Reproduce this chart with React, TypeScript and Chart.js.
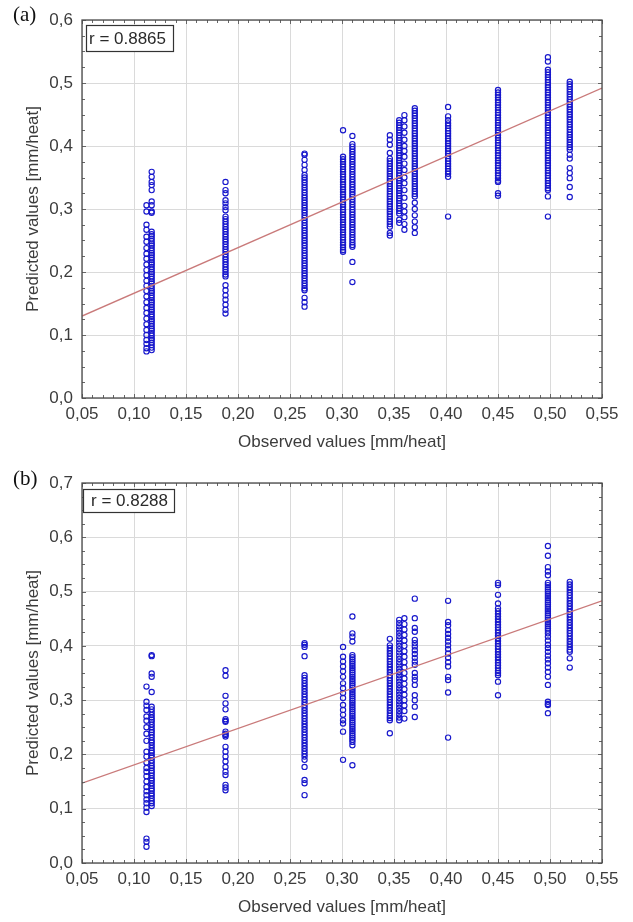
import React, { useEffect, useRef } from "react";
import { Chart, registerables } from "chart.js";
Chart.register(...registerables);

// Observed values (x) of the vertical columns of points
const observedX = [0.112, 0.117, 0.188, 0.264, 0.301, 0.31, 0.346, 0.355, 0.36, 0.37, 0.402, 0.45, 0.498, 0.519];

// x ticks / y ticks
const xMin = 0.05, xMax = 0.55, xStep = 0.05;
const yMaxA = 0.6, yMaxB = 0.7, yStep = 0.1;

// Regression lines (value at x = 0.05 and x = 0.55)
const fitX = [0.05, 0.55];
const fitA = [0.13, 0.492];
const fitB = [0.147, 0.483];

const rTextA = "r = 0.8865";
const rTextB = "r = 0.8288";

// ---- Panel (a) predicted values per column ----
const predA_112 = [0.306, 0.296, 0.275, 0.267, 0.256, 0.248, 0.238, 0.229, 0.221, 0.212, 0.203, 0.195, 0.186, 0.178, 0.17, 0.161, 0.152, 0.143, 0.135, 0.126, 0.117, 0.108, 0.1, 0.092, 0.086, 0.079, 0.074];
const predA_117 = [0.359, 0.351, 0.343, 0.338, 0.33, 0.312, 0.306, 0.296, 0.294, 0.264, 0.26, 0.257, 0.253, 0.249, 0.245, 0.242, 0.238, 0.234, 0.23, 0.227, 0.223, 0.219, 0.215, 0.212, 0.208, 0.204, 0.2, 0.197, 0.193, 0.189, 0.185, 0.182, 0.178, 0.174, 0.17, 0.167, 0.163, 0.159, 0.155, 0.152, 0.148, 0.144, 0.14, 0.137, 0.133, 0.129, 0.125, 0.122, 0.118, 0.114, 0.11, 0.107, 0.103, 0.099, 0.095, 0.092, 0.088, 0.084, 0.08, 0.076];
const predA_188 = [0.343, 0.33, 0.325, 0.314, 0.309, 0.303, 0.298, 0.288, 0.284, 0.28, 0.276, 0.272, 0.268, 0.264, 0.26, 0.256, 0.252, 0.248, 0.244, 0.24, 0.236, 0.232, 0.228, 0.224, 0.22, 0.216, 0.212, 0.208, 0.204, 0.2, 0.196, 0.193, 0.179, 0.171, 0.163, 0.156, 0.148, 0.14, 0.134];
const predA_264 = [0.388, 0.386, 0.378, 0.37, 0.362, 0.354, 0.35, 0.346, 0.342, 0.338, 0.334, 0.33, 0.326, 0.322, 0.318, 0.314, 0.31, 0.306, 0.302, 0.298, 0.294, 0.29, 0.286, 0.282, 0.278, 0.274, 0.27, 0.266, 0.262, 0.258, 0.254, 0.25, 0.246, 0.242, 0.238, 0.234, 0.23, 0.226, 0.222, 0.218, 0.214, 0.21, 0.206, 0.202, 0.198, 0.194, 0.19, 0.186, 0.182, 0.178, 0.174, 0.171, 0.159, 0.152, 0.145];
const predA_301 = [0.425, 0.383, 0.379, 0.375, 0.371, 0.367, 0.363, 0.359, 0.355, 0.351, 0.347, 0.343, 0.339, 0.335, 0.331, 0.327, 0.323, 0.319, 0.315, 0.311, 0.307, 0.303, 0.299, 0.295, 0.291, 0.287, 0.283, 0.279, 0.275, 0.271, 0.267, 0.263, 0.259, 0.255, 0.251, 0.247, 0.243, 0.239, 0.235, 0.232];
const predA_310 = [0.416, 0.403, 0.399, 0.395, 0.391, 0.387, 0.383, 0.379, 0.375, 0.371, 0.367, 0.363, 0.359, 0.355, 0.351, 0.347, 0.343, 0.339, 0.335, 0.331, 0.327, 0.323, 0.319, 0.315, 0.311, 0.307, 0.303, 0.299, 0.295, 0.291, 0.287, 0.283, 0.279, 0.275, 0.271, 0.267, 0.263, 0.259, 0.255, 0.251, 0.247, 0.243, 0.24, 0.216, 0.184];
const predA_346 = [0.417, 0.41, 0.402, 0.389, 0.38, 0.376, 0.372, 0.368, 0.364, 0.36, 0.356, 0.352, 0.348, 0.344, 0.34, 0.336, 0.332, 0.328, 0.324, 0.32, 0.316, 0.312, 0.308, 0.304, 0.3, 0.296, 0.292, 0.288, 0.284, 0.28, 0.276, 0.272, 0.262, 0.258];
const predA_355 = [0.441, 0.437, 0.433, 0.429, 0.425, 0.421, 0.417, 0.413, 0.409, 0.405, 0.401, 0.397, 0.393, 0.389, 0.385, 0.381, 0.377, 0.373, 0.369, 0.365, 0.361, 0.357, 0.353, 0.349, 0.345, 0.341, 0.337, 0.333, 0.329, 0.325, 0.321, 0.317, 0.313, 0.309, 0.305, 0.301, 0.297, 0.293, 0.283, 0.278];
const predA_360 = [0.449, 0.441, 0.431, 0.421, 0.41, 0.4, 0.392, 0.383, 0.372, 0.362, 0.35, 0.341, 0.33, 0.318, 0.305, 0.296, 0.287, 0.276, 0.267];
const predA_370 = [0.46, 0.456, 0.452, 0.448, 0.444, 0.44, 0.436, 0.432, 0.428, 0.424, 0.42, 0.416, 0.412, 0.408, 0.404, 0.4, 0.396, 0.392, 0.388, 0.384, 0.38, 0.376, 0.372, 0.368, 0.364, 0.36, 0.356, 0.352, 0.348, 0.344, 0.34, 0.336, 0.332, 0.328, 0.324, 0.32, 0.31, 0.3, 0.29, 0.28, 0.271, 0.262];
const predA_402 = [0.462, 0.447, 0.441, 0.436, 0.432, 0.428, 0.424, 0.42, 0.416, 0.412, 0.408, 0.404, 0.4, 0.396, 0.392, 0.388, 0.384, 0.38, 0.376, 0.372, 0.368, 0.364, 0.36, 0.356, 0.351, 0.288];
const predA_450 = [0.489, 0.485, 0.481, 0.477, 0.473, 0.469, 0.465, 0.461, 0.457, 0.453, 0.449, 0.445, 0.441, 0.437, 0.433, 0.429, 0.425, 0.421, 0.417, 0.413, 0.409, 0.405, 0.401, 0.397, 0.393, 0.389, 0.385, 0.381, 0.377, 0.373, 0.369, 0.365, 0.361, 0.357, 0.353, 0.349, 0.345, 0.343, 0.325, 0.321];
const predA_498 = [0.541, 0.534, 0.521, 0.517, 0.513, 0.509, 0.505, 0.501, 0.497, 0.493, 0.489, 0.485, 0.481, 0.477, 0.473, 0.469, 0.465, 0.461, 0.457, 0.453, 0.449, 0.445, 0.441, 0.437, 0.433, 0.429, 0.425, 0.421, 0.417, 0.413, 0.409, 0.405, 0.401, 0.397, 0.393, 0.389, 0.385, 0.381, 0.377, 0.373, 0.369, 0.365, 0.361, 0.357, 0.353, 0.349, 0.345, 0.341, 0.337, 0.333, 0.33, 0.32, 0.288];
const predA_519 = [0.502, 0.498, 0.494, 0.49, 0.486, 0.482, 0.478, 0.474, 0.47, 0.466, 0.462, 0.458, 0.454, 0.45, 0.446, 0.442, 0.438, 0.434, 0.43, 0.426, 0.422, 0.418, 0.414, 0.41, 0.406, 0.402, 0.398, 0.394, 0.386, 0.38, 0.365, 0.357, 0.349, 0.335, 0.319];

// ---- Panel (b) predicted values per column ----
const predB_112 = [0.325, 0.297, 0.29, 0.282, 0.27, 0.262, 0.25, 0.238, 0.225, 0.205, 0.196, 0.185, 0.175, 0.168, 0.16, 0.15, 0.14, 0.132, 0.125, 0.117, 0.11, 0.102, 0.094, 0.045, 0.039, 0.03];
const predB_117 = [0.383, 0.381, 0.349, 0.343, 0.315, 0.288, 0.283, 0.278, 0.273, 0.268, 0.264, 0.26, 0.255, 0.25, 0.245, 0.241, 0.236, 0.231, 0.226, 0.222, 0.217, 0.212, 0.207, 0.203, 0.198, 0.194, 0.189, 0.184, 0.179, 0.175, 0.17, 0.166, 0.161, 0.156, 0.152, 0.147, 0.142, 0.137, 0.133, 0.128, 0.124, 0.119, 0.114, 0.11, 0.105];
const predB_188 = [0.355, 0.345, 0.308, 0.294, 0.283, 0.265, 0.262, 0.26, 0.242, 0.238, 0.236, 0.233, 0.214, 0.205, 0.196, 0.187, 0.177, 0.168, 0.162, 0.144, 0.139, 0.134];
const predB_264 = [0.405, 0.402, 0.398, 0.381, 0.346, 0.341, 0.336, 0.331, 0.326, 0.321, 0.316, 0.311, 0.306, 0.301, 0.296, 0.291, 0.286, 0.281, 0.276, 0.271, 0.266, 0.261, 0.256, 0.251, 0.246, 0.241, 0.236, 0.231, 0.226, 0.221, 0.216, 0.211, 0.206, 0.201, 0.196, 0.19, 0.177, 0.153, 0.147, 0.125];
const predB_301 = [0.398, 0.38, 0.371, 0.362, 0.353, 0.343, 0.331, 0.322, 0.313, 0.304, 0.291, 0.282, 0.273, 0.263, 0.257, 0.242, 0.19];
const predB_310 = [0.454, 0.423, 0.417, 0.408, 0.383, 0.379, 0.375, 0.371, 0.367, 0.363, 0.359, 0.355, 0.351, 0.347, 0.343, 0.339, 0.335, 0.331, 0.327, 0.323, 0.319, 0.315, 0.311, 0.307, 0.303, 0.299, 0.295, 0.291, 0.287, 0.283, 0.279, 0.275, 0.271, 0.267, 0.263, 0.259, 0.255, 0.251, 0.247, 0.243, 0.239, 0.235, 0.231, 0.227, 0.223, 0.217, 0.18];
const predB_346 = [0.413, 0.401, 0.396, 0.391, 0.386, 0.381, 0.376, 0.371, 0.366, 0.361, 0.356, 0.351, 0.346, 0.341, 0.336, 0.331, 0.326, 0.321, 0.316, 0.311, 0.306, 0.301, 0.296, 0.291, 0.286, 0.281, 0.276, 0.271, 0.267, 0.263, 0.239];
const predB_355 = [0.448, 0.442, 0.436, 0.43, 0.424, 0.418, 0.412, 0.406, 0.4, 0.394, 0.388, 0.382, 0.376, 0.37, 0.364, 0.358, 0.352, 0.346, 0.34, 0.334, 0.328, 0.322, 0.316, 0.31, 0.304, 0.298, 0.292, 0.286, 0.28, 0.274, 0.268, 0.263];
const predB_360 = [0.451, 0.44, 0.43, 0.42, 0.41, 0.4, 0.39, 0.38, 0.37, 0.36, 0.35, 0.34, 0.33, 0.32, 0.31, 0.3, 0.29, 0.28, 0.266];
const predB_370 = [0.487, 0.451, 0.433, 0.426, 0.411, 0.405, 0.399, 0.392, 0.385, 0.378, 0.371, 0.365, 0.35, 0.343, 0.337, 0.328, 0.309, 0.3, 0.288, 0.269];
const predB_402 = [0.483, 0.444, 0.438, 0.429, 0.422, 0.415, 0.408, 0.401, 0.394, 0.386, 0.378, 0.37, 0.362, 0.343, 0.337, 0.314, 0.231];
const predB_450 = [0.516, 0.512, 0.494, 0.478, 0.469, 0.464, 0.459, 0.454, 0.449, 0.444, 0.439, 0.434, 0.429, 0.424, 0.419, 0.414, 0.409, 0.404, 0.399, 0.394, 0.389, 0.384, 0.379, 0.374, 0.369, 0.364, 0.359, 0.354, 0.35, 0.346, 0.334, 0.309];
const predB_498 = [0.584, 0.566, 0.545, 0.537, 0.53, 0.516, 0.512, 0.508, 0.504, 0.5, 0.496, 0.492, 0.488, 0.484, 0.48, 0.476, 0.472, 0.468, 0.464, 0.46, 0.456, 0.452, 0.448, 0.444, 0.44, 0.436, 0.432, 0.428, 0.423, 0.417, 0.41, 0.402, 0.396, 0.389, 0.382, 0.375, 0.368, 0.36, 0.352, 0.343, 0.328, 0.297, 0.293, 0.291, 0.276];
const predB_519 = [0.518, 0.513, 0.508, 0.503, 0.498, 0.493, 0.488, 0.483, 0.478, 0.473, 0.468, 0.463, 0.458, 0.453, 0.448, 0.443, 0.438, 0.433, 0.428, 0.423, 0.418, 0.413, 0.408, 0.403, 0.398, 0.393, 0.389, 0.377, 0.36];

const columnsA = [predA_112, predA_117, predA_188, predA_264, predA_301, predA_310, predA_346, predA_355, predA_360, predA_370, predA_402, predA_450, predA_498, predA_519];
const columnsB = [predB_112, predB_117, predB_188, predB_264, predB_301, predB_310, predB_346, predB_355, predB_360, predB_370, predB_402, predB_450, predB_498, predB_519];

const xTitle = "Observed values [mm/heat]";
const yTitle = "Predicted values [mm/heat]";

const FONT = '"Liberation Sans", Arial, sans-serif';
const TEXT_COLOR = "#3c3c3c";

type PanelProps = {
  top: number;
  height: number;
  padTop: number;
  xAxisH: number;
  xTitlePad: number;
  yMax: number;
  columns: number[][];
  fit: number[];
  rText: string;
  rBox: number[];
  rTextPad: number;
  label: string;
  labelBaseline: number;
};

function Panel(p: PanelProps) {
  const ref = useRef<HTMLCanvasElement>(null);
  useEffect(() => {
    const canvas = ref.current;
    if (!canvas) return;
    const points: { x: number; y: number }[] = [];
    p.columns.forEach((ys, i) => ys.forEach((y) => points.push({ x: observedX[i], y })));
    const line = fitX.map((x, i) => ({ x, y: p.fit[i] }));

    const decor = {
      id: "decor",
      afterDraw(chart: any) {
        const { ctx, chartArea: a, scales } = chart;
        const xs = scales.x;
        const ys = scales.y;
        ctx.save();
        // minor ticks inside the frame
        ctx.strokeStyle = "#666";
        ctx.lineWidth = 1;
        ctx.beginPath();
        for (let i = 0; i <= 50; i++) {
          const px = Math.round(xs.getPixelForValue(xMin + i * 0.01)) + 0.5;
          const len = i % 5 === 0 ? 4 : 3;
          ctx.moveTo(px, a.bottom);
          ctx.lineTo(px, a.bottom - len);
          ctx.moveTo(px, a.top);
          ctx.lineTo(px, a.top + len);
        }
        const nY = Math.round(p.yMax / 0.025);
        for (let i = 0; i <= nY; i++) {
          const py = Math.round(ys.getPixelForValue(i * 0.025)) + 0.5;
          const len = i % 4 === 0 ? 4 : 3;
          ctx.moveTo(a.left, py);
          ctx.lineTo(a.left + len, py);
          ctx.moveTo(a.right, py);
          ctx.lineTo(a.right - len, py);
        }
        ctx.stroke();
        // frame
        ctx.strokeStyle = "#4a4a4a";
        ctx.lineWidth = 1.3;
        ctx.strokeRect(a.left, a.top, a.right - a.left, a.bottom - a.top);
        // r box
        const [dx, dy, w, h] = p.rBox;
        const bx = a.left + dx;
        const by = a.top + dy;
        ctx.fillStyle = "#fff";
        ctx.fillRect(bx, by, w, h);
        ctx.strokeStyle = "#333";
        ctx.lineWidth = 1.2;
        ctx.strokeRect(bx + 0.5, by + 0.5, w, h);
        ctx.fillStyle = "#2a2a2a";
        ctx.font = `17px ${FONT}`;
        ctx.textAlign = "left";
        ctx.textBaseline = "middle";
        ctx.fillText(p.rText, bx + p.rTextPad, by + h / 2 + 1);
        // panel label
        ctx.font = '21px "Liberation Serif", "Times New Roman", serif';
        ctx.fillStyle = "#111";
        ctx.textBaseline = "alphabetic";
        ctx.fillText(p.label, 13, p.labelBaseline);
        ctx.restore();
      },
    };

    const chart = new Chart(canvas, {
      type: "scatter",
      data: {
        datasets: [
          {
            label: "fit",
            data: line,
            showLine: true,
            borderColor: "#c97a7a",
            borderWidth: 1.4,
            pointRadius: 0,
            order: 0,
          } as any,
          {
            label: "points",
            data: points,
            pointStyle: "circle",
            pointRadius: 2.6,
            borderWidth: 1.15,
            borderColor: "#1818cc",
            backgroundColor: "rgba(0,0,0,0)",
            order: 1,
          } as any,
        ],
      },
      options: {
        responsive: false,
        animation: false,
        events: [],
        layout: { padding: { top: p.padTop, right: 31, bottom: 0, left: 0 } },
        plugins: { legend: { display: false }, tooltip: { enabled: false } },
        scales: {
          x: {
            type: "linear",
            min: xMin,
            max: xMax,
            afterFit: (s: any) => {
              s.height = p.xAxisH;
            },
            ticks: {
              stepSize: xStep,
              padding: 6,
              color: TEXT_COLOR,
              font: { family: FONT, size: 17 },
              maxRotation: 0,
              callback: (v: any) => Number(v).toFixed(2).replace(".", ","),
            },
            grid: { color: "#dadada", lineWidth: 1, drawTicks: false },
            border: { display: false },
            title: {
              display: true,
              text: xTitle,
              color: TEXT_COLOR,
              font: { family: FONT, size: 17 },
              padding: { top: 0, bottom: p.xTitlePad },
            },
          },
          y: {
            type: "linear",
            min: 0,
            max: p.yMax,
            afterFit: (s: any) => {
              s.width = 82;
            },
            ticks: {
              stepSize: yStep,
              padding: 9,
              color: TEXT_COLOR,
              font: { family: FONT, size: 17 },
              callback: (v: any) => Number(v).toFixed(1).replace(".", ","),
            },
            grid: { color: "#dadada", lineWidth: 1, drawTicks: false },
            border: { display: false },
            title: {
              display: true,
              text: yTitle,
              color: TEXT_COLOR,
              font: { family: FONT, size: 17 },
              padding: { top: 23, bottom: 0 },
            },
          },
        },
      },
      plugins: [decor],
    });
    return () => chart.destroy();
  }, []);
  return (
    <canvas
      ref={ref}
      width={633}
      height={p.height}
      style={{ position: "absolute", left: 0, top: p.top, width: 633, height: p.height, display: "block" }}
    />
  );
}

export default function App() {
  return (
    <div style={{ position: "absolute", left: 0, top: 0, width: 633, height: 922, background: "#fff", overflow: "hidden" }}>
      <Panel
        top={0}
        height={460}
        padTop={20}
        xAxisH={62}
        xTitlePad={7}
        yMax={yMaxA}
        columns={columnsA}
        fit={fitA}
        rText={rTextA}
        rBox={[4, 5, 87, 26]}
        rTextPad={3}
        label="(a)"
        labelBaseline={21}
      />
      <Panel
        top={460}
        height={462}
        padTop={23}
        xAxisH={59}
        xTitlePad={4}
        yMax={yMaxB}
        columns={columnsB}
        fit={fitB}
        rText={rTextB}
        rBox={[1, 6, 91, 23]}
        rTextPad={8}
        label="(b)"
        labelBaseline={25}
      />
    </div>
  );
}
